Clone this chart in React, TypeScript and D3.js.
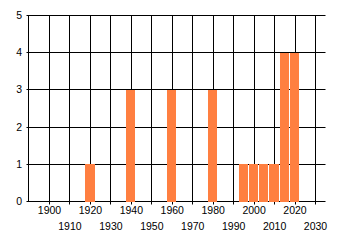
import React from "react";
import * as d3 from "d3";

const years = [1920, 1940, 1960, 1980, 1995, 2000, 2005, 2010, 2015, 2020];
const counts = [1, 3, 3, 3, 1, 1, 1, 1, 4, 4];
const xTicks = [1900, 1910, 1920, 1930, 1940, 1950, 1960, 1970, 1980, 1990, 2000, 2010, 2020, 2030];
const yTicks = [0, 1, 2, 3, 4, 5];

const W = 340;
const H = 245;
const left = 28.5;
const right = 325.5;
const top = 15.5;
const bottom = 201.5;

export default function App() {
  const x = d3.scaleLinear().domain([1900, 2030]).range([49.5, 315.5]);
  const y = d3.scaleLinear().domain([0, 5]).range([bottom, top]);
  const font = "'Liberation Sans', Arial, sans-serif";
  return (
    <svg
      width={W}
      height={H}
      style={{ position: "absolute", left: 0, top: 0, background: "#fff" }}
    >
      <rect x={0} y={0} width={W} height={H} fill="#fff" />
      {/* horizontal grid */}
      {yTicks.map((t) => (
        <line key={"h" + t} x1={left - 2} x2={right} y1={Math.round(y(t) - 0.5) + 0.5} y2={Math.round(y(t) - 0.5) + 0.5} stroke="#000" strokeWidth={1} />
      ))}
      {/* vertical grid */}
      <line x1={left} x2={left} y1={top} y2={bottom} stroke="#000" strokeWidth={1} />
      {xTicks.map((t) => {
        const px = Math.round(x(t) - 0.5) + 0.5;
        return <line key={"v" + t} x1={px} x2={px} y1={top} y2={bottom + 3} stroke="#000" strokeWidth={1} />;
      })}
      {/* bars */}
      {years.map((yr, i) => {
        const x0 = Math.round(x(yr - 2.5));
        const x1 = Math.round(x(yr + 2));
        const y0 = Math.round(y(counts[i]));
        return (
          <rect key={"b" + yr} x={x0} y={y0} width={x1 - x0} height={Math.round(bottom) - y0} fill="#ff7f40" />
        );
      })}
      {/* y labels */}
      {yTicks.map((t) => (
        <text key={"yl" + t} x={22} y={y(t) + 3.5} textAnchor="end" fontFamily={font} fontSize={10.5} fill="#000">
          {t}
        </text>
      ))}
      {/* x labels */}
      {xTicks.map((t, i) => (
        <text key={"xl" + t} x={x(t)} y={i % 2 === 0 ? 214 : 230} textAnchor="middle" fontFamily={font} fontSize={10.5} fill="#000">
          {t}
        </text>
      ))}
    </svg>
  );
}
